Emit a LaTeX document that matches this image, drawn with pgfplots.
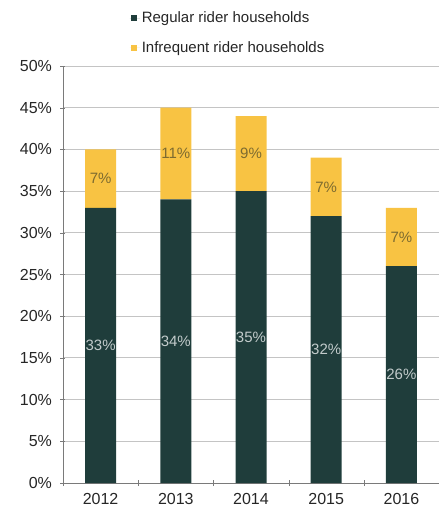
\documentclass[border=0pt]{standalone}
\usepackage{fontspec}
\setmainfont{Liberation Sans}
\usepackage{pgfplots}
\usepackage{pgfplotstable}
\pgfplotsset{compat=1.18}
\definecolor{darkteal}{HTML}{1F3D3B}
\definecolor{gold}{HTML}{F8C343}
\definecolor{gridgray}{HTML}{C4C4C4}
\definecolor{axisgray}{HTML}{7A7A7A}
\definecolor{lightlab}{HTML}{C2CBCB}
\definecolor{olivelab}{HTML}{7D6B30}
\pgfplotstableread{
x reg inf
0 33 7
1 34 11
2 35 9
3 32 7
4 26 7
}\data
\pgfplotsset{common/.style={
  at={(0pt,0pt)}, anchor=south west,
  scale only axis, width=376pt, height=417pt,
  xmin=-0.5, xmax=4.5, ymin=0, ymax=50,
  /pgf/number format/assume math mode=true}}
\begin{document}
\begin{tikzpicture}
\useasboundingbox (-63pt,-25pt) rectangle (376pt,483pt);
\begin{axis}[
  common,
  ybar stacked, bar width=31pt,
  ytick={0,5,...,50},
  yticklabel={\pgfmathprintnumber{\tick}\%},
  xtick={0,1,2,3,4},
  xticklabels={2012,2013,2014,2015,2016},
  major x tick style={draw=none},
  minor xtick={-0.5,0.5,1.5,2.5,3.5},
  minor x tick style={axisgray},
  tick align=outside,
  major tick length=5pt, minor tick length=6pt,
  y tick style={axisgray},
  axis lines=left, axis line style={-, axisgray},
  ymajorgrids, grid style={gridgray, line width=0.8pt},
  tick label style={font=\fontsize{16}{18}\selectfont, text=black!85},
  xticklabel style={yshift=-4pt},
  yticklabel style={xshift=-5pt},
  legend style={at={(axis description cs:0.177,1)}, anchor=south west, yshift=10pt,
    draw=none, fill=none, font=\fontsize{15}{17}\selectfont, row sep=13pt,
    inner sep=0pt, text=black!85},
  legend cell align=left,
  legend image code/.code={\path (0pt,0pt) -- (10pt,0pt);\fill[#1] (1pt,-3pt) rectangle (7pt,3pt);},
]
\addplot[fill=darkteal, draw=none] table[x=x, y=reg] {\data};
\addlegendentry{Regular rider households}
\addplot[fill=gold, draw=none] table[x=x, y=inf] {\data};
\addlegendentry{Infrequent rider households}
\end{axis}
\begin{axis}[
  common, hide axis,
  point meta=explicit,
  nodes near coords={\pgfmathprintnumber{\pgfplotspointmeta}\%},
  nodes near coords align={center},
]
\addplot[only marks, mark=none,
  every node near coord/.append style={text=lightlab, anchor=center,
    font=\fontsize{15}{17}\selectfont}]
  table[x=x, y expr=\thisrow{reg}/2, meta=reg] {\data};
\addplot[only marks, mark=none,
  every node near coord/.append style={text=olivelab, anchor=center,
    font=\fontsize{15}{17}\selectfont}]
  table[x=x, y expr=\thisrow{reg}+\thisrow{inf}/2, meta=inf] {\data};
\end{axis}
\end{tikzpicture}
\end{document}
